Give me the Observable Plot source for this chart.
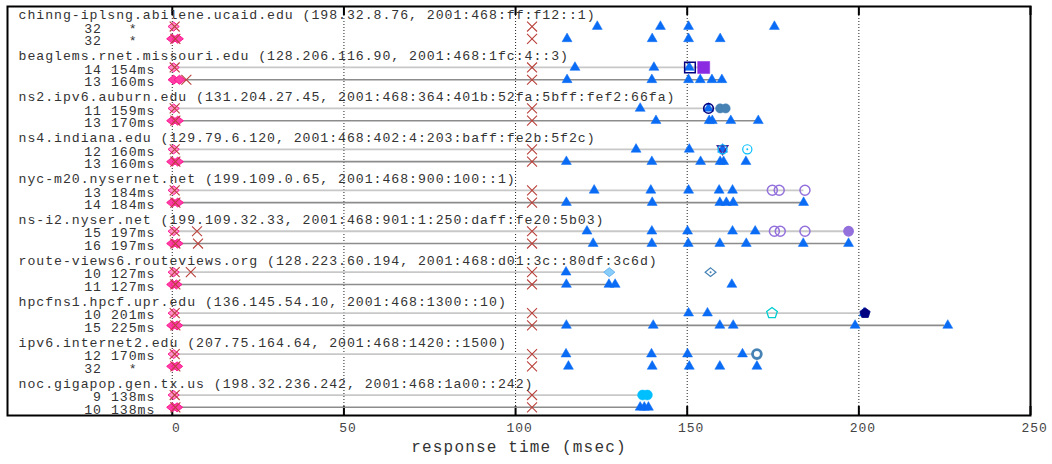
<!DOCTYPE html>
<html><head><meta charset="utf-8">
<script src="https://cdn.jsdelivr.net/npm/d3@7"></script>
<script src="https://cdn.jsdelivr.net/npm/@observablehq/plot@0.6"></script>
<style>
html,body{margin:0;padding:0;background:#fff}
#chart svg text{white-space:pre;letter-spacing:0.073em}
</style></head><body><div id="chart"></div>
<script>
// ---------- data ----------
const hosts = [
  "chinng-iplsng.abilene.ucaid.edu (198.32.8.76, 2001:468:ff:f12::1)",
  "beaglems.rnet.missouri.edu (128.206.116.90, 2001:468:1fc:4::3)",
  "ns2.ipv6.auburn.edu (131.204.27.45, 2001:468:364:401b:52fa:5bff:fef2:66fa)",
  "ns4.indiana.edu (129.79.6.120, 2001:468:402:4:203:baff:fe2b:5f2c)",
  "nyc-m20.nysernet.net (199.109.0.65, 2001:468:900:100::1)",
  "ns-i2.nyser.net (199.109.32.33, 2001:468:901:1:250:daff:fe20:5b03)",
  "route-views6.routeviews.org (128.223.60.194, 2001:468:d01:3c::80df:3c6d)",
  "hpcfns1.hpcf.upr.edu (136.145.54.10, 2001:468:1300::10)",
  "ipv6.internet2.edu (207.75.164.64, 2001:468:1420::1500)",
  "noc.gigapop.gen.tx.us (198.32.236.242, 2001:468:1a00::242)"
];
// two traces per host (row 0 = first, row 1 = second)
const hopCounts = [32,32, 14,13, 11,13, 12,13, 13,14, 15,16, 10,11, 10,15, 12,32, 9,10];
const rttMs     = [null,null, 154,160, 159,170, 160,160, 184,184, 197,197, 127,127, 201,225, 170,null, 138,138];
// first hops (pink diamonds)
const localHops = [
  [0.4],[0,1.6], [0.4],[0.4,2.1], [0.4],[0,1.6], [0.4],[0,1.6], [0.4],[0,1.6],
  [0.4],[0,1.5], [0.4],[0,1.2], [0.4],[0,1.4], [0.4],[0,1.4], [0.4],[0,1.4]
];
// red crosses
const crossHops = [
  [0.7,104.8],[0.9,104.8], [0.7,104.8],[4.1,104.8], [0.7,104.8],[0.9,104.8],
  [0.7,104.8],[0.9,104.8], [0.7,104.8],[0.9,104.8], [0.7,7.2,104.8],[0.9,7.5,104.8],
  [0.7,5.4,104.8],[0.9,104.8], [0.7,104.8],[0.9,104.8], [0.7,104.8],[0.9,104.8],
  [0.7,104.8],[0.9,104.8]
];
// transit hops (blue triangles)
const transitHops = [
  [123.8,142.2,150.4,175.4],
  [115,139.8,150.4,159.6],
  [117.3,140.3,150.6],
  [115,139.7,150.4,153.8,157.2,160.1],
  [136.3,156.2],
  [140.9,156.4,157.3,162.7,170.7],
  [135.1,150.6,160.3],
  [114.8,139.7,153.9,159.6,160.6,167.1],
  [122.9,139.4,150.4,159.3,163.2],
  [114.8,139.8,159.5,161.4,163.4,183.9],
  [120.8,139.7,150.1,163.2,169.8],
  [122.6,139.7,150.3,159.5,167.2,183.8,197],
  [114.7],
  [114.8,127.2,129,163],
  [150.4,155.9,201.5],
  [114.8,140.1,159.5,163.4,198.9,225.9],
  [114.7,139.6,150.1,166.1],
  [115.4,139.8,150.6,159.5,170.3],
  [],
  [136.3,137.5,138.7]
];
// other marked hops
const markRow  = [2,2, 4,4,4, 6,6,6, 8,8,8, 10,10,10,10, 12,12, 14,14, 16, 18,18];
const markMs   = [150.8,154.8, 156.2,159.6,161.2, 160.3,160.3,167.5, 174.8,176.8,184.3, 175.4,177.1,184.3,197, 127.3,156.8, 174.7,201.8, 170.3, 137.0,138.4];
const markKind = ["navySquare","violetSquare", "navyCircle","steelDot","steelDot", "indigoTri","cyanRing","cyanDotRing",
  "lilacRing","lilacRing","lilacRing", "lilacRing","lilacRing","lilacRing","lilacDot",
  "skyDiamond","steelDiamond", "tealPentagon","navyPentagon", "steelRing", "skyDot","skyDot"];
const xTicks = [0,50,100,150,200,250];
const gridTicks = [0,50,100,150,200];
const xLabel = "response time (msec)";

// ---------- build tables ----------
const rows = hopCounts.map((hop,i)=>{
  const g = Math.floor(i/2), r = i%2;
  return {i,g,r,y:g*10+r*3,hop,rtt:rttMs[i],
    label:`${String(hop).padStart(2)} ${rttMs[i]==null ? "  *  " : rttMs[i]+"ms"}`};
});
const headers = hosts.map((text,g)=>({text,y:g*10-3.25}));
const flat = arr => arr.flatMap((vals,i)=>vals.map(ms=>({ms,y:rows[i].y,r:rows[i].r})));
const pinkPts = flat(localHops), crossPts = flat(crossHops), triPts = flat(transitHops);
const marks = markRow.map((i,k)=>({ms:markMs[k],kind:markKind[k],y:rows[i].y}));

// ---------- symbols ----------
const rad = s => Math.sqrt(s/Math.PI);
const wideDiamond = {draw(c,s){const r=rad(s);c.moveTo(0,-0.8*r);c.lineTo(r,0);c.lineTo(0,0.8*r);c.lineTo(-r,0);c.closePath();}};
const triDown = {draw(c,s){const r=rad(s);c.moveTo(-r,-0.7*r);c.lineTo(r,-0.7*r);c.lineTo(0,r);c.closePath();}};
const pentagon = {draw(c,s){const r=rad(s);for(let k=0;k<5;k++){const a=-Math.PI/2+k*2*Math.PI/5;const px=r*Math.cos(a),py=r*Math.sin(a);k?c.lineTo(px,py):c.moveTo(px,py);}c.closePath();}};
const kindStyle = {
  navySquare:{symbol:"square",r:6,fill:"none",stroke:"#000080",strokeWidth:1.5},
  violetSquare:{symbol:"square",r:6.8,fill:"#8a2be2",stroke:"#8a2be2",strokeWidth:0.5},
  navyCircle:{symbol:"circle",r:4.8,fill:"none",stroke:"#000080",strokeWidth:1.6},
  steelDot:{symbol:"circle",r:4.6,fill:"#4682b4",stroke:"#4682b4",strokeWidth:0.5},
  indigoTri:{symbol:triDown,r:5.2,fill:"none",stroke:"#4b2896",strokeWidth:1.5},
  cyanRing:{symbol:"circle",r:4.6,fill:"none",stroke:"#00bfff",strokeWidth:1.2},
  cyanDotRing:{symbol:"circle",r:4.6,fill:"none",stroke:"#00bfff",strokeWidth:1.2,dot:"#00bfff"},
  lilacRing:{symbol:"circle",r:5,fill:"none",stroke:"#9370db",strokeWidth:1.5},
  lilacDot:{symbol:"circle",r:4.8,fill:"#9370db",stroke:"#9370db",strokeWidth:1.2},
  skyDiamond:{symbol:wideDiamond,r:5.6,fill:"#87cefa",stroke:"#6cb2ee",strokeWidth:1},
  steelDiamond:{symbol:wideDiamond,r:5.4,fill:"none",stroke:"#4682b4",strokeWidth:1.2,dot:"#4682b4"},
  tealPentagon:{symbol:pentagon,r:5.6,fill:"none",stroke:"#00ced1",strokeWidth:1.3},
  navyPentagon:{symbol:pentagon,r:5.4,fill:"#000080",stroke:"#000080",strokeWidth:0.8},
  steelRing:{symbol:"circle",r:4.4,fill:"#fff",stroke:"#4682b4",strokeWidth:2.8},
  skyDot:{symbol:"circle",r:5,fill:"#00bfff",stroke:"#00bfff",strokeWidth:0.5}
};
const markLayers = Object.entries(kindStyle).flatMap(([kind,st])=>{
  const data = marks.filter(d=>d.kind===kind);
  const out = [Plot.dot(data,{x:"ms",y:"y",symbol:st.symbol,r:st.r,fill:st.fill,stroke:st.stroke,strokeWidth:st.strokeWidth})];
  if (st.dot) out.push(Plot.dot(data,{x:"ms",y:"y",r:1,fill:st.dot}));
  return out;
});

const mono = "Liberation Mono, Courier New, monospace";
const innerH = 464-6-49;
const chart = Plot.plot({
  width:1052, height:464,
  marginTop:6, marginBottom:49, marginLeft:7, marginRight:22,
  x:{domain:[-48,250], axis:null},
  y:{domain:[-4.89,95.0], reverse:true, axis:null},
  style:{fontFamily:mono, background:"#fff", overflow:"visible"},
  marks:[
    Plot.ruleX(gridTicks,{x:d=>d,stroke:"#222",strokeWidth:1,strokeDasharray:"1,2"}),
    Plot.ruleX(xTicks,{x:d=>d,insetTop:innerH-9,stroke:"#000",strokeWidth:2}),
    Plot.ruleX(xTicks,{x:d=>d,insetBottom:innerH-9,stroke:"#000",strokeWidth:2}),
    Plot.ruleY(rows.filter(d=>d.rtt!=null&&d.r===0),{y:"y",x1:()=>0,x2:"rtt",stroke:"#c8c8c8",strokeWidth:1.8}),
    Plot.ruleY(rows.filter(d=>d.rtt!=null&&d.r===1),{y:"y",x1:()=>0,x2:"rtt",stroke:"#8c8c8c",strokeWidth:1.6}),
    Plot.dot(pinkPts,{x:"ms",y:"y",symbol:wideDiamond,r:5.6,fill:d=>d.r===0?"#ff8fc8":"#ff3fa6",stroke:"#ff1493",strokeWidth:1}),
    Plot.dot(crossPts,{x:"ms",y:"y",symbol:"times",r:4.6,stroke:"#b8403a",strokeWidth:1.1}),
    Plot.dot(triPts,{x:"ms",y:"y",symbol:"triangle",r:3.7,fill:"#0a6cf5",stroke:"#0a6cf5",strokeWidth:0.5}),
    ...markLayers,
    Plot.text(headers,{y:"y",text:"text",frameAnchor:"left",textAnchor:"start",dx:11,dy:2,fontSize:13.2,fill:"#333"}),
    Plot.text(rows,{x:()=>0,y:"y",text:"label",textAnchor:"end",dx:-17,dy:2,fontSize:13.2,fill:"#333"}),
    Plot.text(xTicks,{x:d=>d,text:d=>String(d),frameAnchor:"bottom",dy:16,dx:4,fontSize:13,fill:"#444"}),
    Plot.text([xLabel],{text:d=>d,frameAnchor:"bottom",dy:36,fontSize:16,fill:"#333"}),
    Plot.frame({stroke:"#000",strokeWidth:2})
  ]
});
document.getElementById("chart").appendChild(chart);
</script></body></html>
